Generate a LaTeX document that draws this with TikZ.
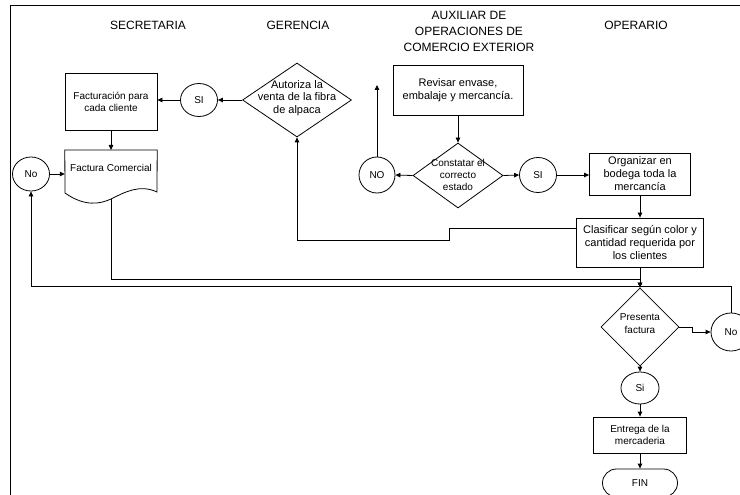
\documentclass[tikz,border=0pt]{standalone}
\usepackage{fontspec}
\setmainfont{Liberation Sans}
\usetikzlibrary{arrows.meta,shapes.geometric,shapes.misc}
\begin{document}
\begin{tikzpicture}[x=1pt,y=-1pt,
  every node/.style={inner sep=0pt, align=center},
  box/.style={draw, line width=0.8pt, rectangle},
  circ/.style={draw, line width=0.8pt, ellipse},
  dia/.style={draw, line width=0.8pt, diamond},
  hdr/.style={font=\fontsize{12}{16}\selectfont},
  big/.style={font=\fontsize{11}{13}\selectfont},
  small/.style={font=\fontsize{10}{12}\selectfont},
  con/.style={line width=0.8pt},
  arr/.style={con, -{Triangle[length=5pt,width=4.5pt]}},
]
\useasboundingbox (0,0) rectangle (740,495);
\clip (0,0) rectangle (740,495);

% frame
\draw[line width=1.6pt] (10.5,495) -- (10.5,5.5) -- (740,5.5);

% headers
\node[hdr] (h1) at (148,25) {SECRETARIA};
\node[hdr] (h2) at (298,25) {GERENCIA};
\node[hdr] (h3) at (469,31) {AUXILIAR DE\\OPERACIONES DE\\COMERCIO EXTERIOR};
\node[hdr] (h4) at (636,25) {OPERARIO};

% Secretaria
\node[box, small, minimum width=92, minimum height=57] (fact) at (111,101.5) {Facturación para\\cada cliente};
\node[minimum width=92, minimum height=49, anchor=north] (doc) at (111,150) {};
\draw[con] (doc.north west) -- (doc.north east) -- (157,192)
  .. controls (140,184) and (125,192) .. (111,199)
  .. controls (100,204) and (85,207) .. (65,193) -- cycle;
\node[small] (doct) at (111,168) {Factura Comercial};
\node[circ, small, minimum width=37, minimum height=34] (no1) at (31,174) {No};

% Gerencia
\node[dia, minimum width=109, minimum height=74] (aut) at (297,100) {};
\node[big, font=\fontsize{11}{12.5}\selectfont] (autt) at (297,98) {Autoriza la\\venta de la fibra\\de alpaca};
\node[circ, small, minimum width=37, minimum height=33] (si1) at (199,100) {SI};

% Auxiliar
\node[box, big, minimum width=130, minimum height=50] (rev) at (458,90) {Revisar envase,\\embalaje y mercancía.};
\node[dia, minimum width=90, minimum height=65] (cons) at (458,175.5) {};
\node[small] (const) at (458,175) {Constatar el\\correcto\\estado};
\node[circ, small, minimum width=36, minimum height=36] (no3) at (377,175) {NO};
\node[circ, small, minimum width=37, minimum height=35] (si3) at (538,175) {SI};
\coordinate (up) at (377,85);

% Operario
\node[box, big, minimum width=101, minimum height=42] (org) at (640,174) {Organizar en\\bodega toda la\\mercancía};
\node[box, big, minimum width=127, minimum height=49] (clas) at (640,242.5) {Clasificar según color y\\cantidad requerida por\\los clientes};
\node[dia, minimum width=78, minimum height=78] (pres) at (640,327) {};
\node[small, font=\fontsize{10}{13}\selectfont] (prest) at (640,324) {Presenta\\factura};
\node[circ, small, minimum width=40, minimum height=38] (no2) at (731,332) {No};
\node[circ, small, minimum width=38, minimum height=32] (si2) at (640,388) {Si};
\node[box, small, minimum width=93, minimum height=36] (ent) at (640,435) {Entrega de la\\mercaderia};
\node[draw, line width=0.8pt, rounded rectangle, small, minimum width=75, minimum height=28] (fin) at (640,483) {FIN};

% connectors
\draw[arr] (aut.west) -- (si1.east);
\draw[arr] (si1.west) -- (si1.west -| fact.east);
\draw[arr] (fact.south) -- (doc.north);
\draw[arr] (no1.east) -- (no1.east -| doc.west);

\draw[arr] (rev.south) -- (cons.north);
\draw[arr] (cons.west) -- (no3.east);
\draw[arr] (cons.east) -- (si3.west);
\draw[arr] (si3.east) -- (si3.east -| org.west);
\draw[arr] (no3.north) -- (up);
\draw[arr] (org.south) -- (clas.north);

\coordinate (c1) at (449,228);
\draw[arr] (clas.west |- c1) -- (c1) -- ++(0,12) -| (aut.south);

\coordinate (j1) at (111,279);
\draw[arr] (doc.south) -- (j1) -| (pres.north);
\draw[arr] (clas.south) -- (pres.north);
\coordinate (j2) at (31,286);
\draw[arr] (no2.north) |- (j2) -- (no1.south);
\draw[arr] (pres.east) -- ++(13,0) |- (no2.west);
\draw[arr] (pres.south) -- (si2.north);
\draw[arr] (si2.south) -- (ent.north);
\draw[arr] (ent.south) -- (fin.north);
\end{tikzpicture}
\end{document}
